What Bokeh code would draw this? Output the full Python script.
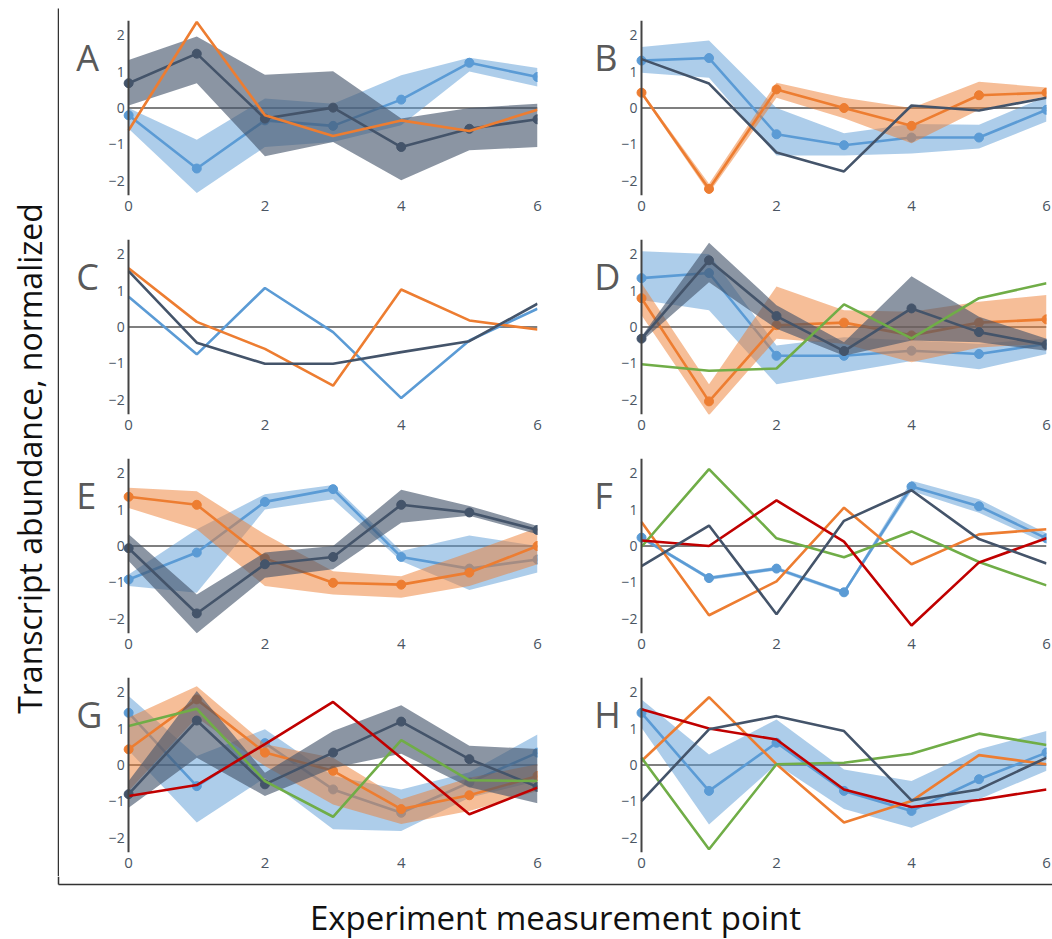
import math
from bokeh.plotting import figure
from bokeh.layouts import row, column
from bokeh.models import Range1d, FixedTicker
from bokeh.core.properties import value
from bokeh.embed import file_html
from bokeh.resources import INLINE

# measurement points shared by every panel
x_points = [0, 1, 2, 3, 4, 5, 6]
x_ticks = [0, 2, 4, 6]
y_ticks = [-2, -1, 0, 1, 2]
y_tick_labels = ["\u22122", "\u22121", "0", "1", "2"]
panel_letters = ["A", "B", "C", "D", "E", "F", "G", "H"]

# ---- panel A
a_blue = [-0.20, -1.66, -0.34, -0.49, 0.23, 1.24, 0.85]
a_blue_hi = [0.00, -0.87, 0.26, 0.12, 0.90, 1.38, 1.10]
a_blue_lo = [-0.57, -2.33, -1.07, -0.93, -0.47, 1.00, 0.59]
a_dark = [0.68, 1.49, -0.29, 0.01, -1.07, -0.57, -0.31]
a_dark_hi = [1.32, 1.96, 0.91, 1.01, -0.29, 0.00, 0.12]
a_dark_lo = [0.07, 0.68, -1.32, -0.93, -1.98, -1.16, -1.07]
a_orange = [-0.61, 2.36, -0.20, -0.77, -0.34, -0.63, -0.05]

# ---- panel B
b_blue = [1.30, 1.37, -0.72, -1.02, -0.81, -0.81, -0.05]
b_blue_hi = [1.67, 1.85, 0.00, -0.69, -0.44, -0.46, 0.32]
b_blue_lo = [0.97, 0.83, -1.30, -1.30, -1.25, -1.11, -0.37]
b_orange = [0.42, -2.22, 0.51, 0.00, -0.49, 0.35, 0.42]
b_orange_hi = [0.46, -2.08, 0.69, 0.28, 0.00, 0.72, 0.56]
b_orange_lo = [0.37, -2.33, 0.28, -0.28, -0.97, -0.05, 0.32]
b_dark = [1.34, 0.67, -1.22, -1.74, 0.07, -0.07, 0.28]

# ---- panel C
c_blue = [0.83, -0.75, 1.07, -0.14, -1.95, -0.37, 0.50]
c_orange = [1.61, 0.14, -0.60, -1.61, 1.03, 0.18, -0.07]
c_dark = [1.53, -0.43, -1.01, -1.01, -0.69, -0.39, 0.64]

# ---- panel D
d_blue = [1.34, 1.48, -0.79, -0.79, -0.65, -0.74, -0.46]
d_blue_hi = [2.08, 2.00, -0.51, -0.28, -0.37, -0.46, -0.32]
d_blue_lo = [0.74, 0.46, -1.57, -1.25, -0.93, -1.16, -0.74]
d_orange = [0.79, -2.04, 0.05, 0.12, -0.23, 0.12, 0.21]
d_orange_hi = [1.20, -1.57, 1.11, 0.46, 0.42, 0.69, 0.88]
d_orange_lo = [0.32, -2.42, -0.32, -0.46, -0.97, -0.56, -0.46]
d_dark = [-0.32, 1.83, 0.30, -0.66, 0.51, -0.14, -0.49]
d_dark_hi = [-0.26, 2.31, 0.60, -0.42, 1.39, 0.28, -0.32]
d_dark_lo = [-0.40, 1.23, -0.05, -0.79, -0.37, -0.42, -0.65]
d_green = [-1.02, -1.20, -1.14, 0.62, -0.31, 0.79, 1.20]

# ---- panel E
e_blue = [-0.92, -0.18, 1.21, 1.56, -0.30, -0.62, -0.37]
e_blue_hi = [-0.78, 0.46, 1.42, 1.67, -0.14, 0.29, 0.00]
e_blue_lo = [-1.10, -1.28, 1.00, 1.28, -0.41, -1.21, -0.73]
e_orange = [1.35, 1.13, -0.34, -1.01, -1.06, -0.73, 0.00]
e_orange_hi = [1.60, 1.50, 0.32, -0.69, -0.83, -0.18, 0.50]
e_orange_lo = [1.04, 0.46, -1.10, -1.33, -1.42, -1.10, -0.50]
e_dark = [-0.06, -1.85, -0.50, -0.30, 1.13, 0.92, 0.44]
e_dark_hi = [0.32, -1.33, -0.18, 0.00, 1.54, 1.10, 0.55]
e_dark_lo = [-0.41, -2.39, -0.87, -0.64, 0.64, 0.83, 0.32]

# ---- panel F
f_blue = [0.23, -0.88, -0.62, -1.27, 1.63, 1.09, 0.21]
f_blue_hi = [0.28, -0.83, -0.57, -1.22, 1.79, 1.28, 0.35]
f_blue_lo = [0.18, -0.93, -0.67, -1.32, 1.51, 0.91, 0.07]
f_orange = [0.66, -1.90, -0.97, 1.05, -0.50, 0.32, 0.46]
f_green = [-0.02, 2.11, 0.21, -0.31, 0.40, -0.44, -1.08]
f_red = [0.15, 0.00, 1.25, 0.12, -2.18, -0.45, 0.21]
f_dark = [-0.55, 0.56, -1.87, 0.69, 1.53, 0.19, -0.48]

# ---- panel G
g_blue = [1.43, -0.58, 0.60, -0.67, -1.31, -0.48, 0.34]
g_blue_hi = [1.89, 0.25, 0.98, -0.30, -0.67, -0.20, 0.84]
g_blue_lo = [0.40, -1.58, -0.35, -1.76, -1.81, -0.90, -0.44]
g_orange = [0.43, 1.80, 0.34, -0.16, -1.21, -0.83, -0.30]
g_orange_hi = [1.30, 2.16, 0.57, 0.20, -0.94, -0.35, 0.02]
g_orange_lo = [-0.71, 1.30, -0.03, -1.08, -1.62, -1.26, -0.71]
g_dark = [-0.80, 1.22, -0.53, 0.34, 1.19, 0.16, -0.60]
g_dark_hi = [-0.44, 2.03, -0.21, 0.93, 1.64, 0.53, 0.44]
g_dark_lo = [-1.17, 0.20, -0.85, -0.08, 0.31, -0.61, -1.05]
g_green = [1.07, 1.54, -0.44, -1.42, 0.68, -0.42, -0.44]
g_red = [-0.85, -0.55, 0.57, 1.73, 0.19, -1.35, -0.62]

# ---- panel H
h_blue = [1.43, -0.71, 0.61, -0.71, -1.26, -0.39, 0.34]
h_blue_hi = [1.80, 0.29, 1.25, -0.12, -0.44, 0.43, 0.93]
h_blue_lo = [1.02, -1.63, 0.02, -1.21, -1.72, -0.94, -0.16]
h_orange = [0.11, 1.86, 0.02, -1.58, -0.99, 0.27, 0.02]
h_green = [0.20, -2.31, 0.02, 0.06, 0.31, 0.86, 0.55]
h_red = [1.53, 1.00, 0.70, -0.67, -1.15, -0.96, -0.67]
h_dark = [-0.99, 0.98, 1.34, 0.93, -0.97, -0.67, 0.20]

BLUE = "#5b9bd5"
ORANGE = "#ed7d31"
DARK = "#44546a"
GREEN = "#70ad47"
RED = "#c00000"
FONT = "Open Sans"

# (color, mean, upper, lower) for the series drawn with a spread band,
# (color, values) for the plain lines drawn on top
panels = [
    ([(BLUE, a_blue, a_blue_hi, a_blue_lo), (DARK, a_dark, a_dark_hi, a_dark_lo)],
     [(ORANGE, a_orange)]),
    ([(BLUE, b_blue, b_blue_hi, b_blue_lo), (ORANGE, b_orange, b_orange_hi, b_orange_lo)],
     [(DARK, b_dark)]),
    ([], [(BLUE, c_blue), (ORANGE, c_orange), (DARK, c_dark)]),
    ([(BLUE, d_blue, d_blue_hi, d_blue_lo), (ORANGE, d_orange, d_orange_hi, d_orange_lo),
      (DARK, d_dark, d_dark_hi, d_dark_lo)],
     [(GREEN, d_green)]),
    ([(BLUE, e_blue, e_blue_hi, e_blue_lo), (ORANGE, e_orange, e_orange_hi, e_orange_lo),
      (DARK, e_dark, e_dark_hi, e_dark_lo)],
     []),
    ([(BLUE, f_blue, f_blue_hi, f_blue_lo)],
     [(ORANGE, f_orange), (GREEN, f_green), (RED, f_red), (DARK, f_dark)]),
    ([(BLUE, g_blue, g_blue_hi, g_blue_lo), (ORANGE, g_orange, g_orange_hi, g_orange_lo),
      (DARK, g_dark, g_dark_hi, g_dark_lo)],
     [(GREEN, g_green), (RED, g_red)]),
    ([(BLUE, h_blue, h_blue_hi, h_blue_lo)],
     [(ORANGE, h_orange), (GREEN, h_green), (RED, h_red), (DARK, h_dark)]),
]

ROW_TOP, FRAME_H, ROW_BOTTOM = 20, 175, 24


def make_panel(idx):
    banded, plain = panels[idx]
    left_col = idx % 2 == 0
    if left_col:
        p = figure(frame_width=477, frame_height=FRAME_H,
                   x_range=Range1d(-1.0, 6.0), y_range=Range1d(-2.4, 2.4),
                   min_border_left=1, min_border_right=43,
                   min_border_top=ROW_TOP, min_border_bottom=ROW_BOTTOM,
                   output_backend="svg", toolbar_location=None)
        letter_x = -0.77
    else:
        p = figure(frame_width=466, frame_height=FRAME_H,
                   x_range=Range1d(-0.904, 6.0), y_range=Range1d(-2.4, 2.4),
                   min_border_left=0, min_border_right=6,
                   min_border_top=ROW_TOP, min_border_bottom=ROW_BOTTOM,
                   output_backend="svg", toolbar_location=None)
        letter_x = -0.70
    p.outline_line_color = None
    p.grid.visible = False
    p.background_fill_color = "white"
    p.border_fill_color = "white"

    # y axis sits on x = 0 inside the frame
    p.yaxis.fixed_location = 0
    p.yaxis.ticker = FixedTicker(ticks=y_ticks)
    p.yaxis.major_label_overrides = dict(zip(y_ticks, y_tick_labels))
    p.yaxis.major_tick_out = 0
    p.yaxis.major_tick_in = 0
    p.yaxis.minor_tick_out = 0
    p.yaxis.minor_tick_in = 0
    p.yaxis.axis_line_color = "#444444"
    p.yaxis.axis_line_width = 2
    p.yaxis.major_label_standoff = 4
    p.yaxis.major_label_text_font = FONT
    p.yaxis.major_label_text_font_size = "14px"
    p.yaxis.major_label_text_color = "#4a5563"

    p.xaxis.ticker = FixedTicker(ticks=x_ticks)
    p.xaxis.axis_line_color = None
    p.xaxis.major_tick_out = 0
    p.xaxis.major_tick_in = 0
    p.xaxis.minor_tick_out = 0
    p.xaxis.minor_tick_in = 0
    p.xaxis.major_label_standoff = 5
    p.xaxis.major_label_text_font = FONT
    p.xaxis.major_label_text_font_size = "15px"
    p.xaxis.major_label_text_color = "#4a5563"

    # zero reference line across the measurement span
    p.segment(x0=[x_points[0]], x1=[x_points[-1]], y0=[0], y1=[0],
              line_color="#555555", line_width=1.5)

    for color, mean, hi, lo in banded:
        alpha = 0.62 if color == DARK else 0.5
        p.varea(x=x_points, y1=lo, y2=hi, fill_color=color, fill_alpha=alpha)
        p.line(x_points, mean, line_color=color, line_width=2.6)
        p.scatter(x_points, mean, size=9, fill_color=color, line_color=color)

    for color, vals in plain:
        p.line(x_points, vals, line_color=color, line_width=2.6)

    p.text(x=[letter_x], y=[1.39], text=[panel_letters[idx]],
           text_font=value(FONT), text_font_size="36px",
           text_color="#595959", text_baseline="alphabetic", text_align="left")
    return p


panel_figs = [make_panel(i) for i in range(8)]
grid = column(*[row(panel_figs[2 * r], panel_figs[2 * r + 1]) for r in range(4)])

GRID_H = 4 * (ROW_TOP + FRAME_H + ROW_BOTTOM)

# left strip: vertical frame line and y title
left = figure(width=59, height=GRID_H, x_range=Range1d(0, 59), y_range=Range1d(0, GRID_H),
              min_border=0, x_axis_type=None, y_axis_type=None,
              output_backend="svg", toolbar_location=None)
left.outline_line_color = None
left.grid.visible = False
left.segment(x0=[58], x1=[58], y0=[0], y1=[GRID_H - 8], line_color="#333333", line_width=1.5)
left.text(x=[29], y=[GRID_H - 458], text=["Transcript abundance, normalized"],
          angle=math.pi / 2, text_font=value(FONT), text_font_size="32px",
          text_color="#111111", text_align="center", text_baseline="middle")

# bottom strip: horizontal frame line and x title
BOTTOM_H = 939 - GRID_H
bottom = figure(width=1052, height=BOTTOM_H, x_range=Range1d(0, 1052), y_range=Range1d(0, BOTTOM_H),
                min_border=0, x_axis_type=None, y_axis_type=None,
                output_backend="svg", toolbar_location=None)
bottom.outline_line_color = None
bottom.grid.visible = False
bottom.segment(x0=[58], x1=[58], y0=[BOTTOM_H], y1=[BOTTOM_H - 8], line_color="#333333", line_width=1.5)
bottom.segment(x0=[58], x1=[1052], y0=[BOTTOM_H - 8], y1=[BOTTOM_H - 8], line_color="#333333", line_width=1.5)
bottom.text(x=[555], y=[BOTTOM_H - 41], text=["Experiment measurement point"],
            text_font=value(FONT), text_font_size="33px", text_color="#111111",
            text_align="center", text_baseline="middle")

layout = column(row(left, grid), bottom)

open("out.html", "w").write(file_html(layout, INLINE))
